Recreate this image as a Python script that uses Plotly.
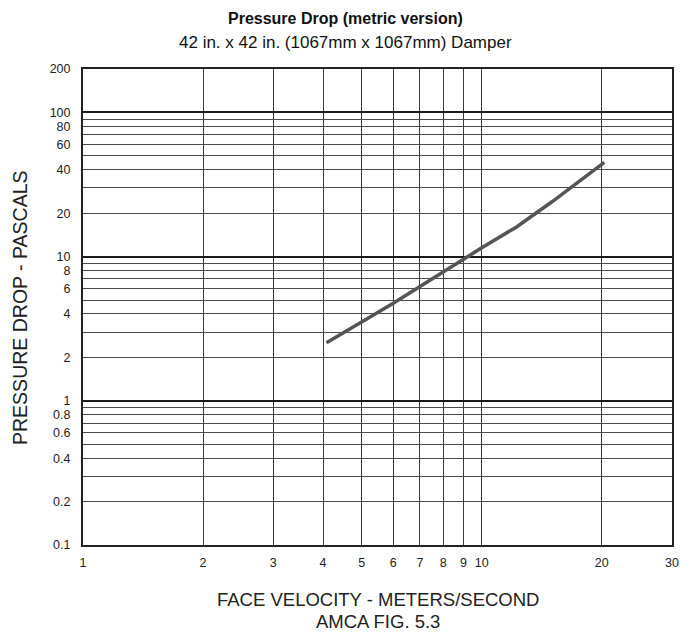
import plotly.graph_objects as go

velocity = [4.08, 5, 6, 7, 8, 9, 10, 12.2, 15, 20.3]
pressure = [2.53, 3.5, 4.75, 6.2, 7.8, 9.7, 11.5, 16, 24, 45]

x_ticks = [1, 2, 3, 4, 5, 6, 7, 8, 9, 10, 20, 30]
x_labels = ["1", "2", "3", "4", "5", "6", "7", "8", "9", "10", "20", "30"]

y_grid = [0.1, 0.2, 0.3, 0.4, 0.5, 0.6, 0.7, 0.8, 0.9, 1,
          2, 3, 4, 5, 6, 7, 8, 9, 10,
          20, 30, 40, 50, 60, 70, 80, 90, 100, 200]
y_label_map = {0.1: "0.1", 0.2: "0.2", 0.4: "0.4", 0.6: "0.6", 0.8: "0.8", 1: "1",
               2: "2", 4: "4", 6: "6", 8: "8", 10: "10",
               20: "20", 40: "40", 60: "60", 80: "80", 100: "100", 200: "200"}
y_labels = [y_label_map.get(v, "") for v in y_grid]
decades = [0.1, 1, 10, 100]

title_text = "Pressure Drop (metric version)"
subtitle_text = "42 in. x 42 in. (1067mm x 1067mm) Damper"
x_title = "FACE VELOCITY - METERS/SECOND"
x_subtitle = "AMCA FIG. 5.3"
y_title = "PRESSURE DROP - PASCALS"

FONT = "Liberation Sans, Arial, sans-serif"
CLEAR = "rgba(0,0,0,0)"

fig = go.Figure()
fig.add_trace(go.Scatter(x=[None], y=[None], yaxis="y2", showlegend=False, hoverinfo="skip"))
fig.add_trace(go.Scatter(x=velocity, y=pressure, mode="lines",
                         line=dict(color="#555555", width=3.5),
                         showlegend=False, hoverinfo="x+y"))

fig.update_layout(
    width=684, height=629,
    margin=dict(l=75, r=20, t=61, b=92),
    paper_bgcolor="white", plot_bgcolor="white",
    font=dict(family=FONT, color="#222222"),
    xaxis=dict(
        type="log", range=[0, 1.47712], automargin=False,
        tickmode="array", tickvals=x_ticks, ticktext=x_labels,
        showgrid=True, gridcolor="#3a3a3a", gridwidth=1,
        ticks="outside", ticklen=5, tickcolor=CLEAR,
        tickfont=dict(size=12.5, color="#222222"),
        showline=True, linecolor="#222222", linewidth=2, mirror=True,
        zeroline=False,
    ),
    yaxis=dict(
        type="log", range=[-1, 2.30103], automargin=False,
        tickmode="array", tickvals=y_grid, ticktext=y_labels,
        showgrid=True, gridcolor="#4a4a4a", gridwidth=1,
        ticks="outside", ticklen=8, tickcolor=CLEAR,
        tickfont=dict(size=12.5, color="#222222"),
        showline=True, linecolor="#222222", linewidth=2, mirror=True,
        zeroline=False,
    ),
    yaxis2=dict(
        type="log", range=[-1, 2.30103], overlaying="y", automargin=False,
        tickmode="array", tickvals=decades, showticklabels=False,
        showgrid=True, gridcolor="#1a1a1a", gridwidth=2,
        ticks="", zeroline=False, showline=False,
    ),
    annotations=[
        dict(text="<b>" + title_text + "</b>", xref="paper", yref="paper",
             x=0.4465, y=1.107, xanchor="center", yanchor="middle", showarrow=False,
             font=dict(size=16, color="#111111")),
        dict(text=subtitle_text, xref="paper", yref="paper",
             x=0.4465, y=1.0567, xanchor="center", yanchor="middle", showarrow=False,
             font=dict(size=17, color="#111111")),
        dict(text=x_title, xref="paper", yref="paper",
             x=0.5, y=-0.115, xanchor="center", yanchor="middle", showarrow=False,
             font=dict(size=18.5, color="#222222")),
        dict(text=x_subtitle, xref="paper", yref="paper",
             x=0.5, y=-0.16, xanchor="center", yanchor="middle", showarrow=False,
             font=dict(size=18.5, color="#222222")),
        dict(text=y_title, xref="paper", yref="paper", textangle=-90,
             x=-0.107, y=0.5, xanchor="center", yanchor="middle", showarrow=False,
             font=dict(size=19.5, color="#222222")),
    ],
)

fig.write_html("out.html")
